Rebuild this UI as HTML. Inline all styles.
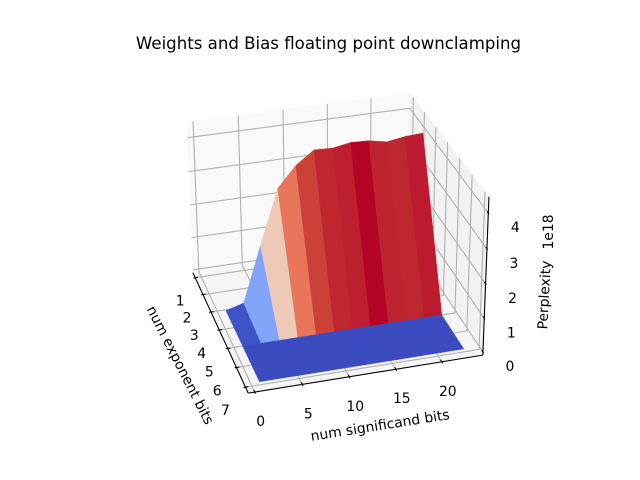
<!DOCTYPE html>
<html>
<head>
<meta charset="utf-8">
<title>Weights and Bias floating point downclamping</title>
<style>
html,body{margin:0;padding:0;background:#fff;}
svg{display:block;}
text{font-family:"DejaVu Sans","Liberation Sans",sans-serif;fill:#000;}
</style>
</head>
<body>
<svg id="chart" width="640" height="480" viewBox="0 0 640 480" xmlns="http://www.w3.org/2000/svg">
<text x="328.5" y="49" font-size="16.6" text-anchor="middle">Weights and Bias floating point downclamping</text>
<text text-anchor="middle" font-size="13.9" transform="translate(180.5,365) rotate(63)" dy="5">num exponent bits</text>
<text text-anchor="middle" font-size="13.9" transform="translate(380,425) rotate(-9)" dy="5">num significand bits</text>
<text text-anchor="middle" font-size="13.9" transform="translate(544,295) rotate(-87)" dy="5">Perplexity</text>
<text text-anchor="middle" font-size="13.9" transform="translate(548,232) rotate(-90)" dy="5">1e18</text>
</svg>
<script>
const exponentBits = [3.2, 5.15, 7];
const significandBits = [0.8, 2.8, 4.8, 6.8, 8.8, 10.8, 12.8, 14.8, 16.8, 18.8, 20.8, 22.8];
const perplexityExp3 = [0, 0.15, 1.8, 3.4, 3.99, 4.36, 4.34, 4.43, 4.41, 4.31, 4.39, 4.42];
const perplexityExp5 = [0, 0, 0, 0, 0, 0, 0, 0, 0, 0, 0, 0];
const perplexityExp7 = [0, 0, 0, 0, 0, 0, 0, 0, 0, 0, 0, 0];
const perplexityRows = [perplexityExp3, perplexityExp5, perplexityExp7];
const exponentTicks = [1, 2, 3, 4, 5, 6, 7];
const significandTicks = [0, 5, 10, 15, 20];
const perplexityTicks = [0, 1, 2, 3, 4];

const exponentLimits = [0.7, 7.3];
const significandLimits = [-0.68, 24.5];
const perplexityLimits = [-0.09, 4.45];

const boxCalibration = [
  [0, 0, 0, 193, 273], [1, 0, 0, 248, 393], [1, 1, 0, 483, 355], [0, 1, 0, 407.5, 241],
  [0, 0, 1, 187, 122], [0, 1, 1, 410, 93], [1, 1, 1, 489, 197]
];

function solveCamera(points) {
  const n = 11;
  const A = [];
  for (let i = 0; i < n; i++) A.push(new Array(n + 1).fill(0));
  function add(r, b) {
    for (let i = 0; i < n; i++) {
      for (let j = 0; j < n; j++) A[i][j] += r[i] * r[j];
      A[i][n] += r[i] * b;
    }
  }
  points.forEach(function (c) {
    add([c[0], c[1], c[2], 1, 0, 0, 0, 0, -c[3] * c[0], -c[3] * c[1], -c[3] * c[2]], c[3]);
    add([0, 0, 0, 0, c[0], c[1], c[2], 1, -c[4] * c[0], -c[4] * c[1], -c[4] * c[2]], c[4]);
  });
  for (let i = 0; i < n; i++) {
    let m = i;
    for (let k = i + 1; k < n; k++) if (Math.abs(A[k][i]) > Math.abs(A[m][i])) m = k;
    const tmp = A[i]; A[i] = A[m]; A[m] = tmp;
    for (let k = 0; k < n; k++) {
      if (k === i) continue;
      const f = A[k][i] / A[i][i];
      for (let j = i; j <= n; j++) A[k][j] -= f * A[i][j];
    }
  }
  return A.map(function (row, i) { return row[n] / row[i]; });
}
const cam = solveCamera(boxCalibration);

function project(u, v, w) {
  const d = cam[8] * u + cam[9] * v + cam[10] * w + 1;
  return [
    (cam[0] * u + cam[1] * v + cam[2] * w + cam[3]) / d,
    (cam[4] * u + cam[5] * v + cam[6] * w + cam[7]) / d
  ];
}
function uOf(e) { return (e - exponentLimits[0]) / (exponentLimits[1] - exponentLimits[0]); }
function vOf(s) { return (s - significandLimits[0]) / (significandLimits[1] - significandLimits[0]); }
function wOf(z) { return (z - perplexityLimits[0]) / (perplexityLimits[1] - perplexityLimits[0]); }
function dataPoint(e, s, z) { return project(uOf(e), vOf(s), wOf(z)); }

const svg = document.getElementById('chart');
const NS = 'http://www.w3.org/2000/svg';
const titleNode = svg.firstElementChild;

function ptsStr(pts) {
  return pts.map(function (p) { return p[0].toFixed(2) + ',' + p[1].toFixed(2); }).join(' ');
}
function addPoly(pts, fill, name) {
  const el = document.createElementNS(NS, 'polygon');
  
  
  el.setAttribute('points', ptsStr(pts));
  el.setAttribute('fill', fill);
  el.setAttribute('stroke', fill);
  el.setAttribute('stroke-width', '0.4');
  svg.insertBefore(el, titleNode);
  return el;
}
function addLine(pts, stroke, width, name) {
  const el = document.createElementNS(NS, 'polyline');
  
  
  el.setAttribute('points', ptsStr(pts));
  el.setAttribute('fill', 'none');
  el.setAttribute('stroke', stroke);
  el.setAttribute('stroke-width', width);
  svg.insertBefore(el, titleNode);
  return el;
}
function addLabel(p, str, name) {
  const el = document.createElementNS(NS, 'text');
  
  
  el.setAttribute('x', p[0].toFixed(2));
  el.setAttribute('y', (p[1] + 5).toFixed(2));
  el.setAttribute('font-size', '13.9');
  el.setAttribute('text-anchor', 'middle');
  el.textContent = str;
  svg.appendChild(el);
  return el;
}

/* panes */
addPoly([project(0,0,0), project(0,1,0), project(0,1,1), project(0,0,1)], '#f9f9f9', 'back-wall-pane');
addPoly([project(0,1,0), project(1,1,0), project(1,1,1), project(0,1,1)], '#f2f2f2', 'right-wall-pane');
addPoly([project(0,0,0), project(1,0,0), project(1,1,0), project(0,1,0)], '#f5f5f5', 'floor-pane');

/* gridlines */
const gridColor = '#b0b0b0';
significandTicks.forEach(function (s) {
  const v = vOf(s);
  addLine([project(1,v,0), project(0,v,0), project(0,v,1)], gridColor, 1.1, 'significand-gridline-' + s);
});
exponentTicks.forEach(function (e) {
  const u = uOf(e);
  addLine([project(u,0,0), project(u,1,0), project(u,1,1)], gridColor, 1.1, 'exponent-gridline-' + e);
});
perplexityTicks.forEach(function (z) {
  const w = wOf(z);
  addLine([project(0,0,w), project(0,1,w), project(1,1,w)], gridColor, 1.1, 'perplexity-gridline-' + z);
});

/* axis lines */
addLine([project(0,0,0), project(1,0,0)], '#000', 1.1, 'exponent-axis-line');
addLine([project(1,0,0), project(1,1,0)], '#000', 1.1, 'significand-axis-line');
addLine([project(1,1,0), project(1,1,1)], '#000', 1.1, 'perplexity-axis-line');

/* ticks and tick labels */
exponentTicks.forEach(function (e) {
  const u = uOf(e);
  addLine([project(u,0.012,0), project(u,-0.008,0)], '#000', 1.1, 'exponent-tick-' + e);
  const p = project(u,0,0);
  addLabel([p[0] - 14.8 - 5.5 * u, p[1] + 23], String(e), 'exponent-tick-label-' + e);
});
significandTicks.forEach(function (s) {
  const v = vOf(s);
  addLine([project(0.985,v,0), project(1.012,v,0)], '#000', 1.1, 'significand-tick-' + s);
  const p = project(1,v,0);
  addLabel([p[0] + 6, p[1] + 29], String(s), 'significand-tick-label-' + s);
});
perplexityTicks.forEach(function (z) {
  const w = wOf(z);
  addLine([project(0.985,1,w), project(1.008,1,w)], '#000', 1.1, 'perplexity-tick-' + z);
  const p = project(1,1,w);
  addLabel([p[0] + 27, p[1] + 14], String(z), 'perplexity-tick-label-' + z);
});

/* coolwarm colormap */
const coolwarmStops = [
  [0, 58, 76, 192], [0.125, 98, 130, 234], [0.25, 141, 176, 254], [0.375, 185, 208, 249],
  [0.5, 221, 220, 220], [0.625, 245, 193, 169], [0.75, 244, 152, 122], [0.84, 232, 115, 90],
  [0.94, 204, 67, 56], [0.984, 190, 38, 48], [0.997, 188, 26, 46], [1, 180, 4, 38]
];
function coolwarm(t) {
  t = Math.max(0, Math.min(1, t));
  for (let i = 1; i < coolwarmStops.length; i++) {
    const a = coolwarmStops[i - 1], b = coolwarmStops[i];
    if (t <= b[0]) {
      const f = (t - a[0]) / (b[0] - a[0]);
      return 'rgb(' + [1, 2, 3].map(function (k) { return Math.round(a[k] + f * (b[k] - a[k])); }).join(',') + ')';
    }
  }
  return 'rgb(180,4,38)';
}

/* surface faces */
const faces = [];
for (let r = 0; r < exponentBits.length - 1; r++) {
  for (let c = 0; c < significandBits.length - 1; c++) {
    const zs = [perplexityRows[r][c], perplexityRows[r][c + 1], perplexityRows[r + 1][c + 1], perplexityRows[r + 1][c]];
    faces.push({
      r: r, c: c,
      mean: (zs[0] + zs[1] + zs[2] + zs[3]) / 4,
      pts: [
        dataPoint(exponentBits[r], significandBits[c], zs[0]),
        dataPoint(exponentBits[r], significandBits[c + 1], zs[1]),
        dataPoint(exponentBits[r + 1], significandBits[c + 1], zs[2]),
        dataPoint(exponentBits[r + 1], significandBits[c], zs[3])
      ]
    });
  }
}
const meanMax = Math.max.apply(null, faces.map(function (f) { return f.mean; }));
const meanMin = Math.min.apply(null, faces.map(function (f) { return f.mean; }));
faces.forEach(function (f) {
  const t = (f.mean - meanMin) / ((meanMax - meanMin) || 1);
  addPoly(f.pts, coolwarm(t), 'surface-face-e' + exponentBits[f.r] + '-s' + significandBits[f.c]);
});
</script>
</body>
</html>
